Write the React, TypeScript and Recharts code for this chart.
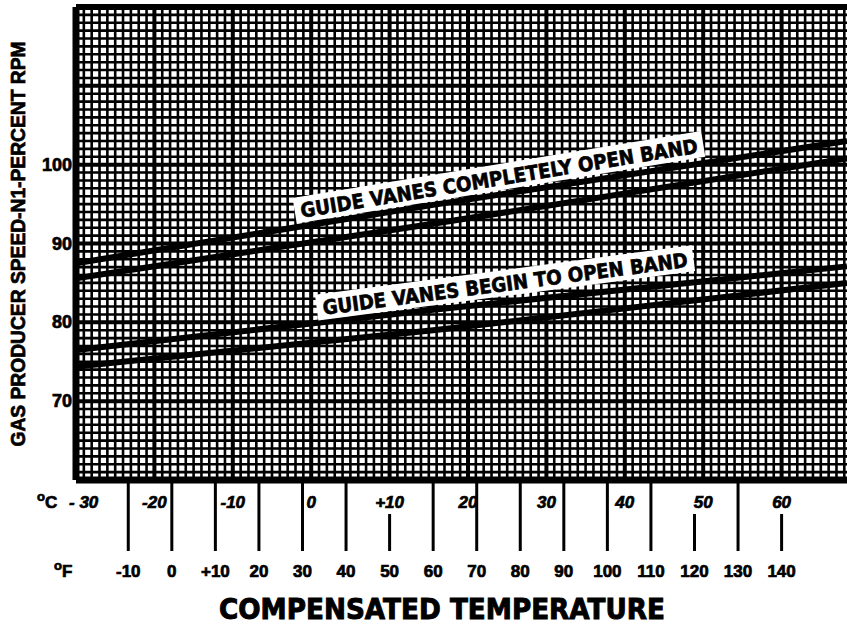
import { LineChart, Line, XAxis, YAxis, ReferenceLine, ReferenceDot } from "recharts";

// compensated temperature, deg F (x axis)
const tempF = [-22, 60, 155];
// gas producer speed N1 %
const openUpper = [87.5, 94.9, 103.0];
const openLower = [85.6, 92.5, 100.8];
const beginUpper = [76.5, 81.6, 87.1];
const beginLower = [74.4, 79.0, 85.0];

const fTicks = [-10, 0, 10, 20, 30, 40, 50, 60, 70, 80, 90, 100, 110, 120, 130, 140];
const fLabels = ["-10", "0", "+10", "20", "30", "40", "50", "60", "70", "80", "90", "100", "110", "120", "130", "140"];
const cTicks = [-30, -20, -10, 0, 10, 20, 30, 40, 50, 60];
const cLabels = ["- 30", "-20", "-10", "0", "+10", "20", "30", "40", "50", "60"];
const yTicks = [70, 80, 90, 100];

const bandLabels = ["GUIDE VANES COMPLETELY OPEN BAND", "GUIDE VANES BEGIN TO OPEN BAND"];
const bandLabelTemp = [75.1, 76.5];
const bandLabelPct = [98.4, 85.0];

const toF = (c: number) => c * 1.8 + 32;
const cTicksF = cTicks.map(toF);

const shortF = [50, 120, 140];
const labelAngle = [-9.3, -7.5];
const labelLen = [402, 368];

const data = tempF.map((t, i) => ({
  t,
  openUpper: openUpper[i],
  openLower: openLower[i],
  beginUpper: beginUpper[i],
  beginLower: beginLower[i],
}));

const sans = "'Liberation Sans', Arial, sans-serif";
const heavy = "'DejaVu Sans', sans-serif";
// thin outline to make the text as heavy as the scanned original
const bold = { fontWeight: "bold" as const, fill: "#000", stroke: "#000", strokeWidth: 0.7 };

function FTick(props: any) {
  const { x, payload } = props;
  const i = fTicks.indexOf(payload.value);
  return (
    <g>
      <line x1={x} x2={x} y1={shortF.includes(payload.value) ? 514 : 483} y2={551} stroke="#000" strokeWidth={3} />
      <text x={x} y={577} textAnchor="middle" fontFamily={sans} fontSize={17} {...bold}>
        {fLabels[i]}
      </text>
      {i === 0 && (
        <text x={54} y={577} fontFamily={sans} fontSize={17} {...bold}>
          <tspan fontSize={13} dy={-7}>o</tspan>
          <tspan dy={7}>F</tspan>
        </text>
      )}
    </g>
  );
}

function CTick(props: any) {
  const { x, payload } = props;
  const i = cTicksF.indexOf(payload.value);
  const first = i === 0;
  return (
    <g>
      <text
        x={first ? x - 7 : x}
        y={508}
        textAnchor={first ? "start" : "middle"}
        fontFamily={sans}
        fontStyle="italic"
        fontSize={17}
        {...bold}
      >
        {cLabels[i]}
      </text>
      {first && (
        <text x={37} y={508} fontFamily={sans} fontSize={17} {...bold}>
          <tspan fontSize={13} dy={-7}>o</tspan>
          <tspan dy={7}>C</tspan>
        </text>
      )}
    </g>
  );
}

function YTick(props: any) {
  const { y, payload } = props;
  return (
    <text x={72} y={y} dy={6} textAnchor="end" fontFamily={sans} fontSize={18} {...bold}>
      {payload.value}
    </text>
  );
}

function BandLabel({ cx, cy, text, angle, len }: any) {
  return (
    <g transform={`translate(${cx},${cy}) rotate(${angle})`}>
      <rect x={-len / 2 - 6} y={-13} width={len + 12} height={26} fill="#fff" />
      <text
        x={0}
        y={8}
        textAnchor="middle"
        fontFamily={heavy}
        fontSize={20}
        textLength={len}
        lengthAdjust="spacingAndGlyphs"
        {...bold}
      >
        {text}
      </text>
    </g>
  );
}

export default function App() {
  const minorC = Array.from({ length: 101 }, (_, i) => -30 + i);
  const minorPct = Array.from({ length: 61 }, (_, i) => 60 + i);

  return (
    <div style={{ position: "absolute", left: 0, top: 0, width: 847, height: 627, overflow: "hidden", background: "#fff" }}>
      <LineChart width={860} height={627} data={data} margin={{ top: 7, right: 0, bottom: 0, left: 0 }}>
        <XAxis
          xAxisId="f"
          dataKey="t"
          type="number"
          domain={[-22, 158]}
          allowDataOverflow
          ticks={fTicks}
          interval={0}
          height={146}
          axisLine={false}
          tickLine={false}
          tick={<FTick />}
          label={{
            content: () => (
              <text x={442} y={619} textAnchor="middle" fontFamily={heavy} fontSize={29} textLength={446} lengthAdjust="spacingAndGlyphs" {...bold} strokeWidth={1}>
                COMPENSATED TEMPERATURE
              </text>
            ),
          }}
        />
        <XAxis
          xAxisId="c"
          dataKey="t"
          type="number"
          domain={[-22, 158]}
          allowDataOverflow
          ticks={cTicksF}
          interval={0}
          height={1}
          axisLine={false}
          tickLine={false}
          tick={<CTick />}
        />
        <YAxis
          type="number"
          domain={[60, 120]}
          allowDataOverflow
          ticks={yTicks}
          interval={0}
          width={76}
          axisLine={false}
          tickLine={false}
          tick={<YTick />}
          label={{
            content: () => (
              <text
                transform="translate(18,244) rotate(-90)"
                textAnchor="middle"
                dominantBaseline="central"
                fontFamily={sans}
                fontSize={20}
                textLength={405}
                lengthAdjust="spacingAndGlyphs"
                {...bold}
              >
                GAS PRODUCER SPEED-N1-PERCENT RPM
              </text>
            ),
          }}
        />

        {minorC.map((c) => (
          <ReferenceLine key={"v" + c} xAxisId="f" x={toF(c)} stroke="#000" strokeWidth={c % 10 === 0 ? 4 : 2.6} />
        ))}
        {minorPct.map((p) => (
          <ReferenceLine key={"h" + p} xAxisId="f" y={p} stroke="#000" strokeWidth={p % 10 === 0 ? 4 : 2.6} />
        ))}
        <ReferenceLine xAxisId="f" x={-22} stroke="#000" strokeWidth={7} />
        <ReferenceLine xAxisId="f" y={60} stroke="#000" strokeWidth={7} />
        <ReferenceLine xAxisId="f" y={120} stroke="#000" strokeWidth={6} />

        {["openUpper", "openLower", "beginUpper", "beginLower"].map((k) => (
          <Line
            key={k}
            xAxisId="f"
            type="linear"
            dataKey={k}
            stroke="#000"
            strokeWidth={6}
            dot={false}
            isAnimationActive={false}
          />
        ))}

        {bandLabels.map((text, i) => (
          <ReferenceDot
            key={text}
            xAxisId="f"
            x={bandLabelTemp[i]}
            y={bandLabelPct[i]}
            r={0}
            ifOverflow="visible"
            shape={(p: any) => <BandLabel cx={p.cx} cy={p.cy} text={text} angle={labelAngle[i]} len={labelLen[i]} />}
          />
        ))}
      </LineChart>
    </div>
  );
}
